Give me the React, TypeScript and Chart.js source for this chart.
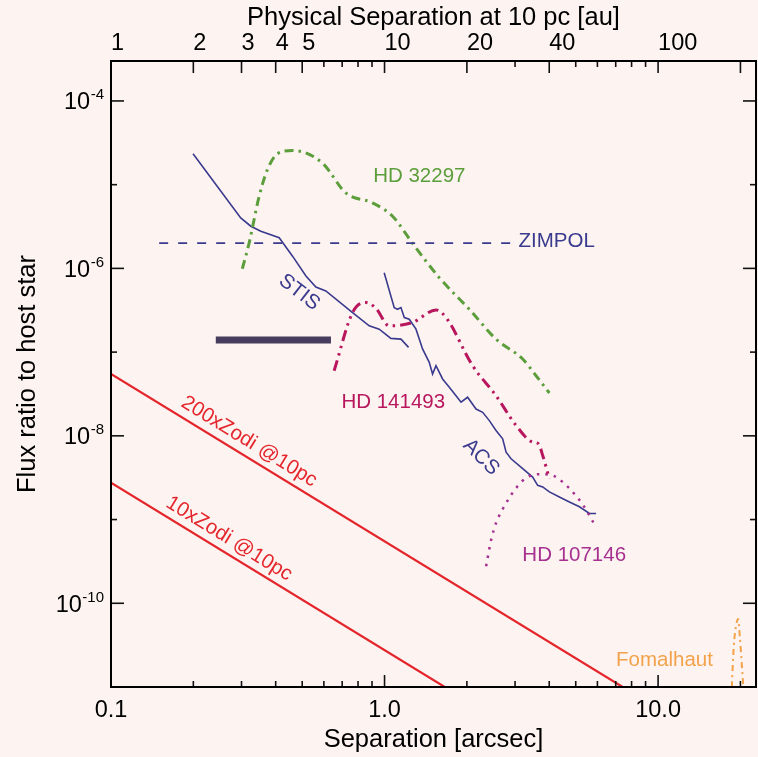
import React, { useEffect, useRef } from 'react';
import { Chart, registerables } from 'chart.js';
Chart.register(...registerables);

const FONT = '"Liberation Sans", Arial, Helvetica, sans-serif';
const BG = '#fdf4f1';
const NAVY = '#3a3a8e';
const GREEN = '#5c9e3c';
const CRIMSON = '#b8175e';
const MAGENTA = '#a5308f';
const RED = '#e4262c';
const ORANGE = '#f3a24b';
const BAR = '#473b5e';

// ---- data (separation in arcsec, flux ratio) ----
const stisSep = [0.1995, 0.298, 0.3245, 0.353, 0.412, 0.461, 0.516, 0.561, 0.61, 0.764, 0.879, 0.956, 1.055, 1.148, 1.224];
const stisFlux = [2.34e-5, 4.0e-6, 3.19e-6, 2.78e-6, 2.32e-6, 1.4e-6, 8.1e-7, 6.0e-7, 5.37e-7, 2.97e-7, 2.06e-7, 1.88e-7, 1.46e-7, 1.43e-7, 1.14e-7];

const acsSep = [0.997, 1.085, 1.116, 1.148, 1.181, 1.231, 1.303, 1.377, 1.457, 1.498, 1.542, 1.63, 1.725, 1.825, 1.904, 2.012, 2.16, 2.284, 2.416, 2.556, 2.703, 2.782, 2.901, 3.199, 3.479, 3.629, 3.786, 4.005, 4.357, 4.74, 5.158, 5.61, 5.935];
const acsFlux = [8.89e-7, 3.4e-7, 3.25e-7, 3.4e-7, 2.59e-7, 2.47e-7, 1.88e-7, 1.09e-7, 7.54e-8, 5.47e-8, 6.87e-8, 4.78e-8, 3.8e-8, 3.02e-8, 2.52e-8, 2.89e-8, 2.09e-8, 1.91e-8, 1.52e-8, 1.16e-8, 9.2e-9, 6.39e-9, 5.32e-9, 4.05e-9, 3.22e-9, 2.56e-9, 2.45e-9, 2.14e-9, 1.86e-9, 1.62e-9, 1.42e-9, 1.18e-9, 1.18e-9];

const zimpolSep = [0.15, 2.9];
const zimpolFlux = [2.0e-6, 2.0e-6];

const hd32297Sep = [0.302, 0.32, 0.348, 0.373, 0.406, 0.461, 0.593, 0.722, 0.904, 1.07, 1.266, 1.585, 2.041, 2.556, 3.199, 3.581, 4.005];
const hd32297Flux = [9.9e-7, 2.02e-6, 7.26e-6, 1.51e-5, 2.34e-5, 2.56e-5, 1.81e-5, 7.96e-6, 6.05e-6, 4.2e-6, 1.99e-6, 7.75e-7, 3.25e-7, 1.43e-7, 8.26e-8, 5.22e-8, 3.25e-8];

const hd141493Sep = [0.654, 0.764, 0.855, 0.93, 1.04, 1.266, 1.542, 1.678, 2.099, 2.556, 3.026, 3.479, 3.66, 3.786, 4.005];
const hd141493Flux = [5.98e-8, 2.97e-7, 3.91e-7, 3.34e-7, 2.06e-7, 2.26e-7, 3.19e-7, 2.59e-7, 6.87e-8, 3.02e-8, 1.33e-8, 8.41e-9, 8.03e-9, 5.82e-9, 3.08e-9];

const hd107146Sep = [2.351, 2.455, 2.561, 2.788, 3.033, 3.301, 3.698, 4.143, 4.507, 4.902, 5.334, 5.801];
const hd107146Flux = [2.77e-10, 5.78e-10, 9.21e-10, 1.59e-9, 2.4e-9, 3.16e-9, 3.48e-9, 3.34e-9, 2.76e-9, 2.09e-9, 1.47e-9, 9.21e-10];

const fomalhautSep = [18.6, 18.9, 19.3, 19.6, 19.9, 20.2, 20.5];
const fomalhautFlux = [1e-11, 3e-11, 5.5e-11, 6.5e-11, 4e-11, 2e-11, 1e-11];

const barSep = [0.2416, 0.637];
const barFlux = [1.4e-7, 1.4e-7];

const zodi200Sep = [0.1, 7.42];
const zodi200Flux = [5.5e-8, 1e-11];
const zodi10Sep = [0.1, 1.66];
const zodi10Flux = [2.75e-9, 1e-11];

// ---- ticks ----
const sepMajor = [0.1, 1, 10];
const sepMajorLabels = ['0.1', '1.0', '10.0'];
const sepMinor = [0.2, 0.3, 0.4, 0.5, 0.6, 0.7, 0.8, 0.9, 2, 3, 4, 5, 6, 7, 8, 9, 20];
const auLabeled = [1, 2, 3, 4, 5, 10, 20, 40, 100];
const auLabels = ['1', '2', '3', '4', '5', '10', '20', '40', '100'];
const auMajor = [2, 3, 4, 5, 10, 20, 40, 100, 200];
const auMinor = [6, 7, 8, 9, 30, 50, 60, 70, 80, 90];
const fluxMajor = [1e-4, 1e-6, 1e-8, 1e-10];
const fluxExp = ['-4', '-6', '-8', '-10'];
const fluxMinor = [1e-5, 1e-7, 1e-9];

// ---- text labels (data coordinates) ----
const notes = [
  { text: 'HD 32297', x: 1.34, y: 1.26e-5, color: GREEN, rot: 0, align: 'center' },
  { text: 'ZIMPOL', x: 3.09, y: 2.1e-6, color: NAVY, rot: 0, align: 'left' },
  { text: 'STIS', x: 0.4875, y: 5.17e-7, color: NAVY, rot: 38, align: 'center' },
  { text: 'HD 141493', x: 1.076, y: 2.53e-8, color: CRIMSON, rot: 0, align: 'center' },
  { text: 'ACS', x: 2.253, y: 5.56e-9, color: NAVY, rot: 45, align: 'center' },
  { text: 'HD 107146', x: 4.936, y: 3.71e-10, color: MAGENTA, rot: 0, align: 'center' },
  { text: 'Fomalhaut', x: 10.55, y: 2.1e-11, color: ORANGE, rot: 0, align: 'center' },
  { text: '200xZodi @10pc', x: 0.3198, y: 8.53e-9, color: RED, rot: 31.5, align: 'center' },
  { text: '10xZodi @10pc', x: 0.2703, y: 5.89e-10, color: RED, rot: 31.5, align: 'center' },
];

const TICK_FONT = 23.5;
const TITLE_FONT = 25.5;

const pts = (xs: number[], ys: number[]) => xs.map((x, i) => ({ x, y: ys[i] }));

const frame = {
  id: 'frame',
  beforeDraw(chart: any) {
    const { ctx, width, height } = chart;
    ctx.save();
    ctx.fillStyle = BG;
    ctx.fillRect(0, 0, width, height);
    ctx.restore();
  },
  afterDatasetsDraw(chart: any) {
    const { ctx, scales } = chart;
    ctx.save();
    ctx.font = `20.5px ${FONT}`;
    ctx.textBaseline = 'middle';
    for (const n of notes) {
      const px = scales.x.getPixelForValue(n.x);
      const py = scales.y.getPixelForValue(n.y);
      ctx.save();
      ctx.translate(px, py);
      ctx.rotate((n.rot * Math.PI) / 180);
      ctx.fillStyle = n.color;
      ctx.textAlign = n.align;
      ctx.fillText(n.text, 0, 0);
      ctx.restore();
    }
    ctx.restore();
  },
  afterDraw(chart: any) {
    const { ctx, chartArea: a, scales } = chart;
    const { x, x2, y } = scales;
    const MAJ = 12;
    const MIN = 6;
    ctx.save();
    ctx.strokeStyle = '#111';
    ctx.lineWidth = 1.6;
    const seg = (x1: number, y1: number, xx: number, yy: number) => {
      ctx.beginPath();
      ctx.moveTo(x1, y1);
      ctx.lineTo(xx, yy);
      ctx.stroke();
    };
    sepMajor.forEach((v) => { const p = x.getPixelForValue(v); seg(p, a.bottom, p, a.bottom - MAJ); });
    sepMinor.forEach((v) => { const p = x.getPixelForValue(v); seg(p, a.bottom, p, a.bottom - MIN); });
    auMajor.forEach((v) => { const p = x2.getPixelForValue(v); seg(p, a.top, p, a.top + MAJ); });
    auMinor.forEach((v) => { const p = x2.getPixelForValue(v); seg(p, a.top, p, a.top + MIN); });
    fluxMajor.forEach((v) => { const p = y.getPixelForValue(v); seg(a.left, p, a.left + MAJ + 1, p); seg(a.right, p, a.right - MAJ - 1, p); });
    fluxMinor.forEach((v) => { const p = y.getPixelForValue(v); seg(a.left, p, a.left + MIN, p); seg(a.right, p, a.right - MIN, p); });
    ctx.lineWidth = 2;
    ctx.strokeStyle = '#000';
    ctx.strokeRect(a.left, a.top, a.right - a.left, a.bottom - a.top);
    // y tick labels: 10 with superscript exponent
    ctx.fillStyle = '#000';
    ctx.textBaseline = 'alphabetic';
    fluxMajor.forEach((v, i) => {
      const p = y.getPixelForValue(v);
      const R = a.left - 7;
      ctx.font = `15px ${FONT}`;
      const ew = ctx.measureText(fluxExp[i]).width;
      ctx.textAlign = 'left';
      ctx.fillText(fluxExp[i], R - ew, p - 1.5);
      ctx.font = `${TICK_FONT}px ${FONT}`;
      ctx.textAlign = 'right';
      ctx.fillText('10', R - ew - 0.5, p + 8.5);
    });
    ctx.restore();
  },
};

export default function App() {
  const ref = useRef<HTMLCanvasElement>(null);
  useEffect(() => {
    document.body.style.margin = '0';
    document.body.style.background = BG;
    const lineDs = (label: string, xs: number[], ys: number[], color: string, width: number, dash: number[], smooth = false) => ({
      label,
      data: pts(xs, ys),
      borderColor: color,
      backgroundColor: color,
      borderWidth: width,
      borderDash: dash,
      showLine: true,
      pointRadius: 0,
      pointHoverRadius: 0,
      fill: false,
      cubicInterpolationMode: smooth ? 'monotone' : 'default',
      tension: 0,
    });
    const chart = new Chart(ref.current as HTMLCanvasElement, {
      type: 'scatter',
      data: {
        datasets: [
          lineDs('200xZodi @10pc', zodi200Sep, zodi200Flux, RED, 2.2, []),
          lineDs('10xZodi @10pc', zodi10Sep, zodi10Flux, RED, 2.2, []),
          lineDs('ZIMPOL', zimpolSep, zimpolFlux, NAVY, 1.7, [9, 10]),
          lineDs('HD 32297', hd32297Sep, hd32297Flux, GREEN, 3, [9, 5, 2.5, 5], true),
          lineDs('HD 141493', hd141493Sep, hd141493Flux, CRIMSON, 3, [11, 5, 2.5, 5, 2.5, 5], true),
          lineDs('HD 107146', hd107146Sep, hd107146Flux, MAGENTA, 2.5, [2.5, 6], true),
          lineDs('Fomalhaut', fomalhautSep, fomalhautFlux, ORANGE, 2, [6, 4, 2, 4], true),
          lineDs('STIS', stisSep, stisFlux, NAVY, 1.6, []),
          lineDs('ACS', acsSep, acsFlux, NAVY, 1.6, []),
          lineDs('limit', barSep, barFlux, BAR, 7, []),
        ] as any,
      },
      options: {
        animation: false,
        responsive: false,
        maintainAspectRatio: false,
        events: [],
        layout: { padding: { left: 0, right: 2, top: 0, bottom: 0 } },
        plugins: { legend: { display: false }, tooltip: { enabled: false }, title: { display: false } },
        scales: {
          x: {
            type: 'logarithmic',
            position: 'bottom',
            min: 0.1,
            max: 22.8,
            grid: { display: false, drawTicks: false, tickLength: 0 },
            border: { display: false },
            afterBuildTicks: (s: any) => { s.ticks = sepMajor.map((v) => ({ value: v })); },
            afterFit: (s: any) => { s.height = 70; },
            ticks: {
              autoSkip: false,
              maxRotation: 0,
              minRotation: 0,
              padding: 9,
              color: '#000',
              font: { family: FONT, size: TICK_FONT },
              callback: (v: any) => { const i = sepMajor.indexOf(Number(v)); return i >= 0 ? sepMajorLabels[i] : ''; },
            },
            title: { display: true, text: 'Separation [arcsec]', color: '#000', font: { family: FONT, size: TITLE_FONT }, padding: { top: 0, bottom: 2 } },
          },
          x2: {
            type: 'logarithmic',
            position: 'top',
            display: true,
            min: 1,
            max: 228,
            grid: { display: false, drawTicks: false, tickLength: 0 },
            border: { display: false },
            afterBuildTicks: (s: any) => { s.ticks = auLabeled.map((v) => ({ value: v })); },
            afterFit: (s: any) => { s.height = 61; },
            ticks: {
              autoSkip: false,
              maxRotation: 0,
              minRotation: 0,
              align: 'start',
              padding: 3,
              color: '#000',
              font: { family: FONT, size: TICK_FONT },
              callback: (v: any) => { const i = auLabeled.indexOf(Number(v)); return i >= 0 ? auLabels[i] : ''; },
            },
            title: { display: true, text: 'Physical Separation at 10 pc [au]', color: '#000', font: { family: FONT, size: TITLE_FONT }, padding: { top: 3, bottom: 0 } },
          },
          y: {
            type: 'logarithmic',
            position: 'left',
            min: 1e-11,
            max: 3e-4,
            grid: { display: false, drawTicks: false, tickLength: 0 },
            border: { display: false },
            afterFit: (s: any) => { s.width = 111; },
            ticks: { display: false },
            title: { display: true, text: 'Flux ratio to host star', color: '#000', font: { family: FONT, size: TITLE_FONT }, padding: { top: 13, bottom: 0 } },
          },
        },
      } as any,
      plugins: [frame],
    });
    return () => chart.destroy();
  }, []);
  return (
    <div style={{ position: 'fixed', left: 0, top: 0, width: 758, height: 757, background: BG }}>
      <canvas ref={ref} width={758} height={757} style={{ display: 'block' }} />
    </div>
  );
}
